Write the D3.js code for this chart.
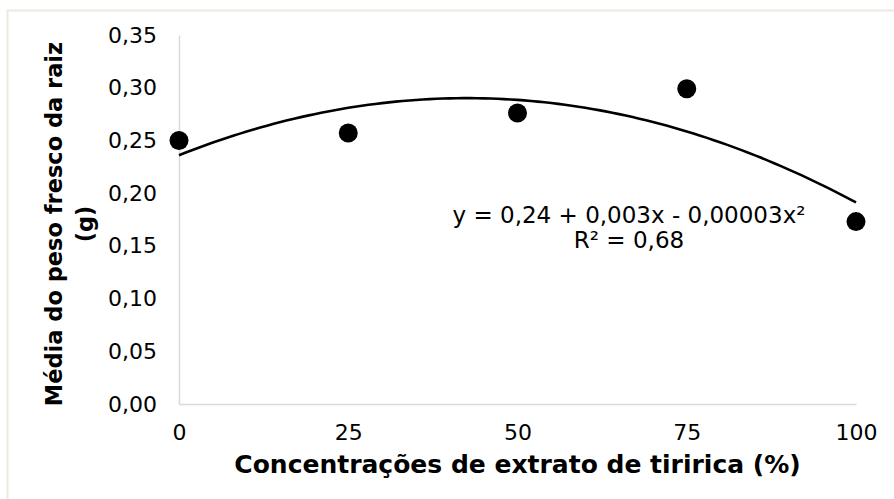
<!DOCTYPE html>
<html>
<head>
<meta charset="utf-8">
<script src="https://cdn.jsdelivr.net/npm/d3@7"></script>
<style>
  html, body { margin: 0; padding: 0; background: #ffffff; }
  svg { display: block; }
  text { font-family: "DejaVu Sans", Verdana, sans-serif; fill: #000; }
</style>
</head>
<body>
<svg id="chart" width="894" height="499"></svg>
<script>
// ---- data ----
const concentrations = [0, 25, 50, 75, 100];
const rootFreshWeight = [0.250, 0.257, 0.276, 0.299, 0.173];
const xTickValues = [0, 25, 50, 75, 100];
const yTickValues = [0, 0.05, 0.10, 0.15, 0.20, 0.25, 0.30, 0.35];
const equationLines = ["y = 0,24 + 0,003x - 0,00003x²", "R² = 0,68"];
const xTitle = "Concentrações de extrato de tiririca (%)";
const yTitleLines = ["Média do peso fresco da raiz", "(g)"];

// ---- layout ----
const W = 894, H = 499;
const plot = { left: 179, right: 856, top: 35, bottom: 404 };

const svg = d3.select("#chart");

// outer frame
svg.append("rect")
  .attr("x", 7.5).attr("y", 10.5)
  .attr("width", W + 20).attr("height", H + 20)
  .attr("fill", "#ffffff")
  .attr("stroke", "#eceadf").attr("stroke-width", 2);

const x = d3.scaleLinear().domain([0, 100]).range([plot.left, plot.right]);
const y = d3.scaleLinear().domain([0, 0.35]).range([plot.bottom, plot.top]);

const fmt = v => d3.format(".2f")(v).replace(".", ",");

// y axis
const yAxis = svg.append("g")
  .attr("transform", `translate(${plot.left},0)`)
  .call(d3.axisLeft(y).tickValues(yTickValues).tickSize(0).tickPadding(22).tickFormat(fmt));
yAxis.select(".domain").attr("stroke", "#d9d9d9").attr("stroke-width", 1.5);
yAxis.selectAll("text")
  .style("font-family", "'DejaVu Sans', Verdana, sans-serif")
  .style("font-size", "22px").attr("fill", "#000");

// x axis
const xAxis = svg.append("g")
  .attr("transform", `translate(0,${plot.bottom})`)
  .call(d3.axisBottom(x).tickValues(xTickValues).tickSize(0).tickPadding(20).tickFormat(d3.format("d")));
xAxis.select(".domain").attr("stroke", "#d9d9d9").attr("stroke-width", 1.5);
xAxis.selectAll("text")
  .style("font-family", "'DejaVu Sans', Verdana, sans-serif")
  .style("font-size", "22px").attr("fill", "#000");

// quadratic least-squares trendline from the data
function quadFit(xs, ys) {
  const n = xs.length;
  let s = [0,0,0,0,0], t = [0,0,0];
  for (let i = 0; i < n; i++) {
    const xi = xs[i], yi = ys[i];
    for (let k = 0; k < 5; k++) s[k] += Math.pow(xi, k);
    for (let k = 0; k < 3; k++) t[k] += yi * Math.pow(xi, k);
  }
  const A = [[s[0], s[1], s[2], t[0]], [s[1], s[2], s[3], t[1]], [s[2], s[3], s[4], t[2]]];
  for (let i = 0; i < 3; i++) {
    for (let j = i + 1; j < 3; j++) {
      const f = A[j][i] / A[i][i];
      for (let k = i; k < 4; k++) A[j][k] -= f * A[i][k];
    }
  }
  const c = [0,0,0];
  for (let i = 2; i >= 0; i--) {
    let v = A[i][3];
    for (let k = i + 1; k < 3; k++) v -= A[i][k] * c[k];
    c[i] = v / A[i][i];
  }
  return c;
}
const coef = quadFit(concentrations, rootFreshWeight);
const trend = d3.range(0, 100.01, 1).map(v => [v, coef[0] + coef[1] * v + coef[2] * v * v]);

svg.append("path")
  .datum(trend)
  .attr("fill", "none")
  .attr("stroke", "#000")
  .attr("stroke-width", 2.6)
  .attr("d", d3.line().x(d => x(d[0])).y(d => y(d[1])));

// points
svg.append("g").selectAll("circle")
  .data(concentrations.map((c, i) => [c, rootFreshWeight[i]]))
  .join("circle")
  .attr("cx", d => x(d[0]))
  .attr("cy", d => y(d[1]))
  .attr("r", 9.5)
  .attr("fill", "#000");

// equation
svg.append("text")
  .attr("text-anchor", "middle")
  .style("font-size", "23px")
  .selectAll("tspan")
  .data(equationLines)
  .join("tspan")
  .attr("x", 629)
  .attr("y", (d, i) => 223 + i * 25)
  .text(d => d);

// x title
svg.append("text")
  .attr("x", (plot.left + plot.right) / 2)
  .attr("y", 473)
  .attr("text-anchor", "middle")
  .style("font-size", "25px")
  .style("font-weight", "bold")
  .text(xTitle);

// y title
const yt = svg.append("text")
  .attr("transform", "translate(0,224) rotate(-90)")
  .attr("text-anchor", "middle")
  .style("font-size", "22.5px")
  .style("font-weight", "bold");
yt.selectAll("tspan")
  .data(yTitleLines)
  .join("tspan")
  .attr("x", 0)
  .attr("y", (d, i) => 62 + i * 31)
  .text(d => d);
</script>
</body>
</html>
